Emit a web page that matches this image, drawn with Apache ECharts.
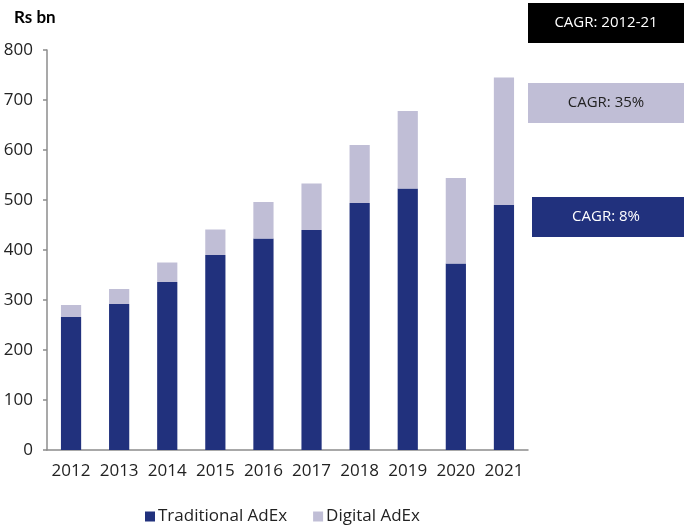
<!DOCTYPE html>
<html>
<head>
<meta charset="utf-8">
<script src="https://cdn.jsdelivr.net/npm/echarts@6/dist/echarts.min.js"></script>
<style>
  html, body { margin: 0; padding: 0; background: #fff; }
  #chart { width: 684px; height: 527px; }
</style>
</head>
<body>
<div id="chart"></div>
<script>
// Indian advertising expenditure, Rs bn
const years = ['2012', '2013', '2014', '2015', '2016', '2017', '2018', '2019', '2020', '2021'];
const traditionalAdEx = [266, 292, 336, 390, 423, 440, 494, 523, 373, 490];
const digitalAdEx = [24, 30, 39, 51, 73, 93, 116, 155, 171, 255];
const yTicks = [0, 100, 200, 300, 400, 500, 600, 700, 800];

const navy = '#21317d';
const lilac = '#c0bed6';
const axisGray = '#8c8c8c';
const font = '"Open Sans", "Noto Sans", sans-serif';

const chart = echarts.init(document.getElementById('chart'));
chart.setOption({
  animation: false,
  textStyle: { fontFamily: font },
  grid: { left: 47, right: 156, top: 50, bottom: 77 },
  legend: {
    bottom: -3,
    left: 140,
    itemWidth: 10,
    itemHeight: 10,
    itemGap: 26,
    icon: 'rect',
    textStyle: { fontSize: 17, color: '#222', fontFamily: font, padding: [0, 0, 0, -2] },
    data: ['Traditional AdEx', 'Digital AdEx']
  },
  xAxis: {
    type: 'category',
    data: years,
    axisLine: { lineStyle: { color: axisGray, width: 1.5 } },
    axisTick: { length: 5, lineStyle: { color: axisGray, width: 1.5 } },
    axisLabel: { interval: 0, color: '#222', fontSize: 17, margin: 13, fontFamily: font }
  },
  yAxis: {
    type: 'value',
    min: yTicks[0],
    max: yTicks[yTicks.length - 1],
    interval: 100,
    splitLine: { show: false },
    axisLine: { show: true, lineStyle: { color: axisGray, width: 1.5 } },
    axisTick: { show: true, length: 4, lineStyle: { color: axisGray, width: 1.5 } },
    axisLabel: { color: '#222', fontSize: 17, margin: 14, fontFamily: font }
  },
  series: [
    {
      name: 'Traditional AdEx',
      type: 'bar',
      stack: 'adex',
      barWidth: '42%',
      itemStyle: { color: navy },
      data: traditionalAdEx
    },
    {
      name: 'Digital AdEx',
      type: 'bar',
      stack: 'adex',
      itemStyle: { color: lilac },
      data: digitalAdEx
    }
  ],
  graphic: [
    {
      type: 'text', left: 14, top: 9,
      style: { text: 'Rs bn', fontSize: 17, fontWeight: 'bold', fontFamily: 'Lato, sans-serif', fill: '#000' }
    },
    {
      type: 'group', left: 528, top: 3,
      children: [
        { type: 'rect', shape: { x: 0, y: 0, width: 160, height: 40 }, style: { fill: '#000' } },
        { type: 'text', x: 78, y: 20, style: { text: 'CAGR: 2012-21', fontSize: 15, fontFamily: font, fill: '#fff', align: 'center', verticalAlign: 'middle' } }
      ]
    },
    {
      type: 'group', left: 528, top: 83,
      children: [
        { type: 'rect', shape: { x: 0, y: 0, width: 160, height: 40 }, style: { fill: lilac } },
        { type: 'text', x: 78, y: 20, style: { text: 'CAGR: 35%', fontSize: 15, fontFamily: font, fill: '#222', align: 'center', verticalAlign: 'middle' } }
      ]
    },
    {
      type: 'group', left: 532, top: 197,
      children: [
        { type: 'rect', shape: { x: 0, y: 0, width: 156, height: 40 }, style: { fill: navy } },
        { type: 'text', x: 74, y: 20, style: { text: 'CAGR: 8%', fontSize: 15, fontFamily: font, fill: '#fff', align: 'center', verticalAlign: 'middle' } }
      ]
    }
  ]
});
</script>
</body>
</html>
